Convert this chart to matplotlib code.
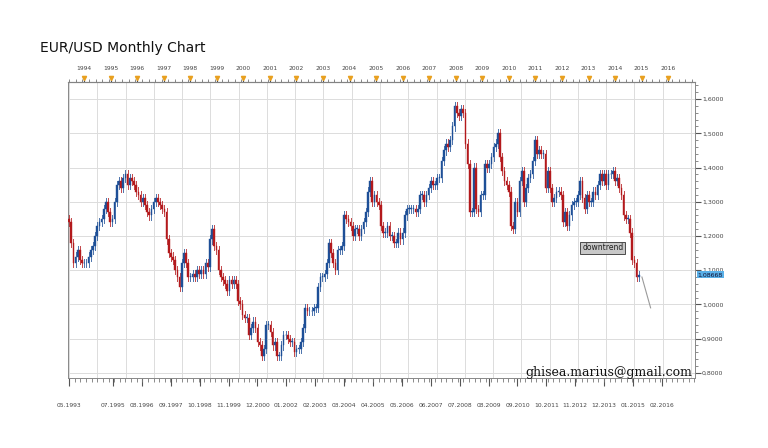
import matplotlib
matplotlib.use("Agg")
import matplotlib.pyplot as plt
import matplotlib.transforms as mtransforms
import numpy as np

closes = [
 1.24,1.18,1.12,1.14,1.16,1.13,1.12,1.12,
 1.12,1.14,1.16,1.17,1.20,1.23,1.24,1.25,1.28,1.30,1.27,1.24,
 1.25,1.30,1.35,1.36,1.34,1.37,1.38,1.35,1.37,1.36,1.35,1.33,
 1.32,1.30,1.31,1.29,1.27,1.26,1.28,1.30,1.31,1.30,1.29,1.28,
 1.27,1.19,1.15,1.14,1.13,1.10,1.08,1.05,1.12,1.15,1.12,1.08,
 1.08,1.09,1.08,1.10,1.09,1.10,1.09,1.12,1.11,1.19,1.22,1.17,
 1.16,1.10,1.08,1.07,1.06,1.04,1.07,1.06,1.07,1.06,1.01,1.00,
 0.97,0.96,0.96,0.91,0.93,0.95,0.93,0.89,0.88,0.85,0.87,0.94,
 0.94,0.92,0.88,0.89,0.85,0.85,0.88,0.91,0.91,0.90,0.89,0.89,
 0.86,0.87,0.87,0.89,0.93,0.99,0.98,0.98,0.98,0.99,0.99,1.05,
 1.08,1.08,1.09,1.12,1.18,1.15,1.12,1.10,1.16,1.16,1.17,1.26,
 1.25,1.24,1.23,1.20,1.22,1.22,1.20,1.22,1.24,1.27,1.33,1.36,
 1.30,1.32,1.30,1.29,1.23,1.21,1.21,1.23,1.20,1.20,1.18,1.18,
 1.21,1.19,1.21,1.26,1.28,1.28,1.28,1.28,1.27,1.28,1.32,1.32,
 1.30,1.32,1.34,1.36,1.35,1.35,1.37,1.37,1.42,1.45,1.47,1.46,
 1.48,1.52,1.58,1.56,1.55,1.57,1.56,1.47,1.41,1.27,1.27,1.40,
 1.28,1.27,1.32,1.32,1.41,1.40,1.41,1.43,1.46,1.47,1.50,1.43,
 1.39,1.36,1.35,1.33,1.23,1.22,1.30,1.27,1.36,1.39,1.30,1.34,
 1.37,1.38,1.42,1.48,1.44,1.45,1.44,1.44,1.34,1.39,1.34,1.30,
 1.31,1.33,1.33,1.32,1.24,1.27,1.23,1.26,1.29,1.30,1.30,1.32,
 1.36,1.31,1.28,1.32,1.30,1.30,1.33,1.32,1.35,1.38,1.36,1.38,
 1.35,1.38,1.38,1.39,1.36,1.37,1.34,1.32,1.26,1.25,1.25,1.21,
 1.13,1.12,1.08,1.0866,
]
first_open = 1.25
projection_x = [264.5, 268.5]
projection_y = [1.08, 0.99]
last_value = 1.08668

top_years = list(range(1994, 2017))
bottom_labels = ["05.1993","07.1995","08.1996","09.1997","10.1998","11.1999","12.2000",
                 "01.2002","02.2003","03.2004","04.2005","05.2006","06.2007","07.2008",
                 "08.2009","09.2010","10.2011","11.2012","12.2013","01.2015","02.2016"]

fig = plt.figure(figsize=(7.68, 4.48), dpi=100)
ax = fig.add_axes([68/768, 1-378/448, 627/768, 296/448])

opens = [first_open] + closes[:-1]
up_c, dn_c = "#1d4f97", "#b3191c"
for i, (o, c) in enumerate(zip(opens, closes)):
    col = up_c if c >= o else dn_c
    hi, lo = max(o, c) + 0.012, min(o, c) - 0.012
    ax.plot([i, i], [lo, hi], color=col, lw=0.7, alpha=0.8, zorder=3)
    ax.bar(i, max(abs(c - o), 0.002), bottom=min(o, c), width=0.75, color=col,
           edgecolor=col, lw=0.3, zorder=4)
ax.plot(projection_x, projection_y, color="#9a9a9a", lw=0.8, zorder=3)

ax.set_xlim(-0.5, 289)
ax.set_ylim(0.785, 1.65)

ax.yaxis.tick_right()
yt = np.arange(0.8, 1.61, 0.1)
ax.set_yticks(yt)
ax.set_yticklabels([f"{v:.4f}".replace(".", ",") for v in yt], fontsize=4.5, color="#444")
ax.set_yticks(np.arange(0.8, 1.65, 0.02), minor=True)
ax.tick_params(axis="y", which="major", length=4, color="#555", pad=1)
ax.tick_params(axis="y", which="minor", length=2, color="#777")

pos_b = [0] + list(np.linspace(20.3, 273.7, 20))
ax.set_xticks(pos_b)
ax.set_xticklabels(bottom_labels, fontsize=4.3, color="#444")
ax.set_xticks(np.arange(0, 289, 2.6), minor=True)
ax.tick_params(axis="x", which="major", length=6, color="#555", pad=12)
ax.tick_params(axis="x", which="minor", length=3, color="#777")

for gx in np.arange(0, 289, 13.05):
    ax.axvline(gx, color="#dcdcdc", lw=0.7, zorder=0)
for gy in yt:
    ax.axhline(gy, color="#dcdcdc", lw=0.7, zorder=0)
for s in ax.spines.values():
    s.set_color("#888")
    s.set_linewidth(0.7)

sec = ax.secondary_xaxis("top")
pos_t = [6.9 + k * 12.26 for k in range(len(top_years))]
sec.set_xticks(pos_t)
sec.set_xticklabels([str(y) for y in top_years], fontsize=4.3, color="#444")
sec.set_xticks(np.arange(0, 289, 3.06), minor=True)
sec.tick_params(axis="x", which="major", length=3, color="#555", pad=5)
sec.tick_params(axis="x", which="minor", length=2, color="#777")
trans = mtransforms.blended_transform_factory(ax.transData, ax.transAxes)
ax.plot(pos_t, [1.012] * len(pos_t), linestyle="none", marker="v", ms=3,
        color="#e8a020", transform=trans, clip_on=False, zorder=6)

ax.text(246.5, 1.165, "downtrend", fontsize=5.5, ha="center", va="center", color="#222",
        bbox=dict(boxstyle="square,pad=0.25", fc="#c8c8c8", ec="#333", lw=0.6), zorder=7)
ax.text(1.004, last_value, f"{last_value:.5f}".replace(".", ","),
        transform=ax.get_yaxis_transform(),
        fontsize=4.5, color="#113", va="center", ha="left",
        bbox=dict(boxstyle="square,pad=0.15", fc="#5ab0e8", ec="none"), clip_on=False, zorder=8)
fig.text(525/768, 1-372/448, "ghisea.marius@gmail.com", fontsize=9,
         family="DejaVu Serif", va="center", ha="left", color="#111")
fig.text(40/768, 1-48/448, "EUR/USD Monthly Chart", fontsize=10, va="center",
         ha="left", color="#111")

fig.savefig("out.png", dpi=100, facecolor="white")
